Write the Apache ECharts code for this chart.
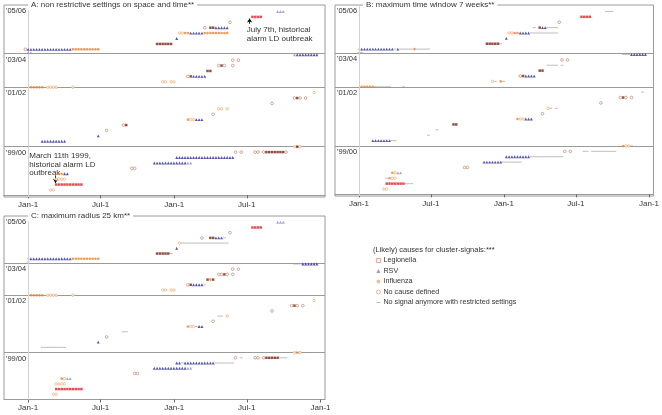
<!DOCTYPE html>
<html><head><meta charset="utf-8">
<script src="https://cdn.jsdelivr.net/npm/echarts@6/dist/echarts.min.js"></script>
<style>html,body{margin:0;padding:0;background:#fff}#c{width:662px;height:415px}</style>
</head><body><div id="c"></div>
<script>
// ---- axis text ----
const tickWeeks = [0, 25.86, 52.14, 78, 104.29];
const tickLabels = ['Jan-1', 'Jul-1', 'Jan-1', 'Jul-1', 'Jan-1'];
const bandNames = ["'99/00", "'01/02", "'03/04", "'05/06"];
const bandTops = [9, 20, 26.2, 35.2];      // row level at top of each band
const bandSeparators = [9, 20, 26.2];

// ---- rows: [row level, first week, one code per week] ----
// L Legionella, D dark square, R RSV, r RSV (light), I Influenza, i Influenza (open),
// o no cause defined, - no signal anymore, . nothing
const A9900 = [[1,8,'ii'],[2,10,'LLLLLLLLLL'],[3,10,'iiii'],[4,11,'IIRR'],[5,37,'oo'],[6,45,'RRRRRRRRRRRRrr'],[7,53,'RRRRRRRRRRRRRRRRRRRRR'],[8,74,'o.o....oo.oDDDDDDDo'],[9,95,'iDi']];
const A0102 = [[10,5,'RRRRRRRRR'],[11,25,'R'],[12,28,'o'],[13,34,'oD'],[14,57,'IiiRRR'],[15,66,'o'],[16,68,'ii.i'],[17,87,'o'],[18,95,'oDo.o'],[19,102,'i']];
const A0304 = [[20,1,'IIIII.iiii.....i'],[21,48,'ii.ii'],[22,57,'oDRRRRR'],[23,64,'DD'],[24,68,'oDo..o'],[25,73,'o.o'],[26,95,'rRRRRRRRR']];
const A0506 = [[26.4,0,'rr'],[27,-1,'o'+'RRRRRRRRRRRRRRRR'+'IIIIIIIIII'],[28,46,'DDDDDD'],[29,53,'R'],[30,54,'iiIIRRRRRIIIIIIIII'],[31,63,'o.DDRRRRR'],[32,72,'o'],[33,80,'LLLL'],[34,89,'rrr']];

const B9900 = [[1,9,'ii'],[2,10,'LLLLLLL---'],[3,10,'-Iii'],[4,12,'Iirr'],[5,38,'oo'],[6,45,'RRRRRRR-------'],[7,53,'RRRRRRRRR------------'],[8,74,'o.o....--.---------'],[9,95,'Iii-']];
const B0102 = [[10,5,'RRRRRRR--'],[11,25,'-'],[12,28,'-'],[13,34,'DD'],[14,57,'IiiRRR'],[15,66,'o'],[16,68,'i-.-'],[17,87,'o'],[18,94,'oDo.o'],[19,102,'-']];
const B0304 = [[20,1,'IIIII------....-'],[21,48,'i-.I-'],[22,58,'oDRRRR'],[23,65,'DD'],[24,68,'----.-'],[25,73,'o.o'],[26,95,'---RRRRRR']];
const B0506 = [[26.4,0,'--'],[27,0,'-'+'RRRRRRRRRRRR'+'-R-----I-----'],[28,46,'DDDDD-'],[29,53,'R'],[30,54,'iiIIRRRR----------'],[31,63,'-.DRR----'],[32,72,'o'],[33,80,'LLLL'],[34,89,'---']];

const C9900 = [[1,9,'ii'],[2,10,'LLLLLLLLLL'],[3,10,'iiii'],[4,12,'Iirr'],[5,38,'oo'],[6,45,'RRRRRRRRRRRRrr'],[7,53,'RR-RRRRRRRRRRR-------'],[8,74,'o.-....oo.oDDDDD---'],[9,95,'iIi-']];
const C0102 = [[10,5,'---------'],[11,25,'R'],[12,28,'o'],[13,34,'--'],[14,57,'Iii-RR'],[15,66,'o'],[16,68,'--.i'],[17,87,'o'],[18,94,'oDo.o'],[19,102,'i']];
const C0304 = [[20,1,'IIIII.iiii.....i'],[21,48,'ii.ii'],[22,57,'oDRRRR-'],[23,64,'DID'],[24,68,'ooDo.o'],[25,73,'o.o'],[26,95,'---RRRRRR']];
const C0506 = [[26.4,0,'-'],[27,0,'-'+'RRRRRRRRRRRRRRR'+'IIIIIIIIII'],[28,46,'DDDDD-'],[29,53,'R'],[30,54,'i'+'-----------------'],[31,62,'o..DDRRR-'],[32,72,'o'],[33,80,'LLLL'],[34,89,'rrr']];

const panelTitles = ['A: non restrictive settings on space and time**', 'B: maximum time window 7 weeks**', 'C: maximum radius 25 km**'];
const legendTitle = '(Likely) causes for cluster-signals:***';
const legendNames = ['Legionella', 'RSV', 'Influenza', 'No cause defined', 'No signal anymore with restricted settings'];
// annotations in panel A: [week, row level, text]
const annotations = [[78, 31.4, 'July 7th, historical\nalarm LD outbreak'], [0.4, 8.1, 'March 11th 1999,\nhistorical alarm LD\noutbreak']];
const arrows = [[[79, 31.7], [79, 32.7]], [[9.8, 3.7], [9.8, 2.3]]];

// ---- styles ----
const codeStyle = {
  '-': {name: legendNames[4], symbol: 'rect', size: [2.9, 1.1], color: '#b4b4b4', z: 2},
  'L': {name: legendNames[0], symbol: 'rect', size: 2.5, color: '#e3202a', z: 5},
  'D': {name: 'dark', symbol: 'rect', size: 2.5, color: '#7a2418', z: 5},
  'R': {name: legendNames[1], symbol: 'triangle', size: 2.9, color: '#2a2a9c', z: 5},
  'r': {name: 'rsvLight', symbol: 'triangle', size: 2.9, color: '#8c8cd2', z: 5},
  'I': {name: legendNames[2], symbol: 'circle', size: 2.6, color: '#ee8430', z: 5},
  'i': {name: 'fluOpen', symbol: 'circle', size: 2.5, color: '#fff', border: '#f0a060', z: 5},
  'o': {name: legendNames[3], symbol: 'circle', size: 2.7, color: '#fff', border: '#b47a60', z: 5}
};

const panels = [
  {rows: [A9900, A0102, A0304, A0506], grid: {left: 4, top: 5, width: 321, height: 192}, ymin: -0.3, ticks: tickWeeks.slice(0, 4)},
  {rows: [B9900, B0102, B0304, B0506], grid: {left: 335, top: 5, width: 325, height: 191}, ymin: -0.3, ticks: tickWeeks},
  {rows: [C9900, C0102, C0304, C0506], grid: {left: 4, top: 216, width: 321, height: 183.5}, ymin: 0, ticks: tickWeeks}
];
const titlePos = [{left: 28, top: 0}, {left: 363, top: 0}, {left: 28, top: 211}];

const font = 'Liberation Sans, Arial, sans-serif';
const grids = [], xAxes = [], yAxes = [], series = [], titles = [];
panels.forEach((p, g) => {
  grids.push(Object.assign({show: true, borderColor: '#9a9a9a', borderWidth: 1, backgroundColor: 'transparent'}, p.grid));
  xAxes.push({type: 'value', gridIndex: g, min: -8.6, max: 105.9, splitLine: {show: false},
    axisLine: {show: true, lineStyle: {color: '#9a9a9a'}},
    axisTick: {show: true, customValues: p.ticks, length: 3, lineStyle: {color: '#666'}},
    axisLabel: {customValues: p.ticks, fontSize: 8, color: '#333', margin: 4, fontFamily: font,
      formatter: v => tickLabels[tickWeeks.findIndex(t => Math.abs(t - v) < 0.01)]}});
  yAxes.push({type: 'value', gridIndex: g, min: p.ymin, max: 35.2, splitLine: {show: false},
    axisLine: {show: false}, axisTick: {show: false},
    axisLabel: {inside: true, customValues: bandTops, margin: 2, verticalAlign: 'top', align: 'left',
      fontSize: 7.5, color: '#333', fontFamily: font, padding: [2, 0, 0, 0],
      formatter: v => bandNames[bandTops.findIndex(t => Math.abs(t - v) < 0.01)]}});
  const buckets = {};
  p.rows.forEach(rows => rows.forEach(([r, s, codes]) => {
    [...codes].forEach((c, k) => { if (c === '.') return; (buckets[c] = buckets[c] || []).push([s + k, r]); });
  }));
  Object.keys(codeStyle).forEach(c => {
    if (!buckets[c]) return;
    const st = codeStyle[c];
    series.push({type: 'scatter', name: st.name, xAxisIndex: g, yAxisIndex: g, data: buckets[c],
      symbol: st.symbol, symbolSize: st.size, z: st.z, silent: true, animation: false,
      itemStyle: {color: st.color, borderColor: st.border || st.color, borderWidth: st.border ? 0.75 : 0}});
  });
  series.push({type: 'scatter', name: 'frame' + g, xAxisIndex: g, yAxisIndex: g, data: [], silent: true, animation: false,
    markLine: {silent: true, symbol: 'none', animation: false, label: {show: false},
      lineStyle: {color: '#9a9a9a', width: 1, type: 'solid'},
      data: bandSeparators.map(v => ({yAxis: v})).concat([{xAxis: 0, lineStyle: {color: '#d2d2d2', width: 1, type: 'solid'}}])}});
  titles.push(Object.assign({text: panelTitles[g], backgroundColor: '#fff', padding: [1, 3],
    textStyle: {fontSize: 8, fontWeight: 'normal', color: '#333', fontFamily: font}}, titlePos[g]));
});
series.push({type: 'scatter', name: 'notes', xAxisIndex: 0, yAxisIndex: 0, data: [], silent: true, animation: false,
  markLine: {silent: true, animation: false, symbol: ['none', 'arrow'], symbolSize: 4, label: {show: false},
    lineStyle: {color: '#000', width: 0.8, type: 'solid'},
    data: arrows.map(a => [{coord: a[0]}, {coord: a[1]}])},
  markPoint: {silent: true, animation: false, symbol: 'circle', symbolSize: 0,
    data: annotations.map(a => ({coord: [a[0], a[1]], label: {show: true, formatter: a[2], position: [0, 0],
      align: 'left', verticalAlign: 'top', fontSize: 8, lineHeight: 8.5, color: '#333', fontFamily: font}}))}});
titles.push({text: legendTitle, left: 373, top: 246, padding: 0,
  textStyle: {fontSize: 7.5, fontWeight: 'normal', color: '#333', fontFamily: font}});

const chart = echarts.init(document.getElementById('c'), null, {renderer: 'canvas'});
chart.setOption({
  animation: false,
  backgroundColor: '#fff',
  title: titles,
  grid: grids, xAxis: xAxes, yAxis: yAxes, series: series,
  legend: {left: 376, top: 257, orient: 'vertical', itemGap: 3.5, itemWidth: 4, itemHeight: 4, selectedMode: false,
    padding: 0,
    textStyle: {fontSize: 7.2, color: '#333', fontFamily: font, padding: [0, 0, 0, -2]},
    data: [
      {name: legendNames[0], icon: 'rect', itemStyle: {color: '#fff', borderColor: '#e07070', borderWidth: 0.8}},
      {name: legendNames[1], icon: 'triangle', itemStyle: {color: '#8080c8'}},
      {name: legendNames[2], icon: 'circle', itemStyle: {color: '#f3b070'}},
      {name: legendNames[3], icon: 'circle', itemStyle: {color: '#fff', borderColor: '#d09070', borderWidth: 0.8}},
      {name: legendNames[4], icon: 'path://M0,4H10V6H0Z', itemStyle: {color: '#999'}}
    ]}
});
</script></body></html>
